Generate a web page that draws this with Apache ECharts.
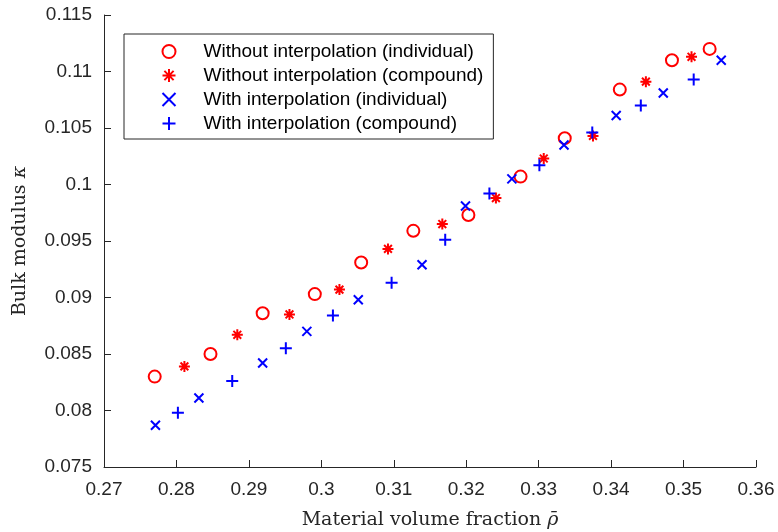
<!DOCTYPE html>
<html>
<head>
<meta charset="utf-8">
<script src="https://cdn.jsdelivr.net/npm/echarts@6/dist/echarts.min.js"></script>
<style>
html,body{margin:0;padding:0;background:#fff;}
#chart{width:778px;height:532px;}
</style>
</head>
<body>
<div id="chart"></div>
<script>
// Without interpolation (individual)
const woIndX = [0.2770,0.2847,0.2919,0.2991,0.3055,0.3127,0.3203,0.3275,0.3336,0.3412,0.3484,0.3536];
const woIndY = [0.0830,0.0850,0.0886,0.0903,0.0931,0.0959,0.0973,0.1007,0.1041,0.1084,0.1110,0.1120];
// Without interpolation (compound)
const woCmpX = [0.2811,0.2884,0.2956,0.3025,0.3092,0.3167,0.3241,0.3307,0.3375,0.3448,0.3511];
const woCmpY = [0.0839,0.0867,0.0885,0.0907,0.0943,0.0965,0.0988,0.1023,0.1043,0.1091,0.1113];
// With interpolation (individual)
const wIndX = [0.2771,0.2831,0.2919,0.2980,0.3051,0.3139,0.3199,0.3263,0.3335,0.3407,0.3472,0.3552];
const wIndY = [0.0787,0.0811,0.0842,0.0870,0.0898,0.0929,0.0981,0.1005,0.1035,0.1061,0.1081,0.1110];
// With interpolation (compound)
const wCmpX = [0.2802,0.2877,0.2951,0.3016,0.3097,0.3171,0.3232,0.3301,0.3374,0.3441,0.3514];
const wCmpY = [0.0798,0.0826,0.0855,0.0884,0.0913,0.0951,0.0992,0.1017,0.1046,0.1070,0.1093];

const seriesNames = [
  'Without interpolation (individual)',
  'Without interpolation (compound)',
  'With interpolation (individual)',
  'With interpolation (compound)'
];

function pairs(xs, ys){ return xs.map((x,i)=>[x, ys[i]]); }

const axisColor = '#262626';
const sans = 'Liberation Sans, Arial, sans-serif';
const serif = 'DejaVu Serif, Liberation Serif, serif';
const chart = echarts.init(document.getElementById('chart'), null, {renderer:'canvas'});

const pathX = 'path://M0,0L10,10M10,0L0,10';
const pathPlus = 'path://M5,0L5,10M0,5L10,5';
const pathStar = 'path://M5,0L5,10M0,5L10,5M1.46,1.46L8.54,8.54M8.54,1.46L1.46,8.54';

chart.setOption({
  animation:false,
  backgroundColor:'#ffffff',
  grid:{left:104, right:22, top:15, bottom:65, containLabel:false, outerBoundsMode:'none'},
  legend:{
    orient:'vertical',
    left:124, top:34,
    padding:[7,10,5,36],
    itemWidth:13, itemHeight:13, itemGap:3,
    borderColor:axisColor, borderWidth:1,
    backgroundColor:'#ffffff',
    selectedMode:false,
    textStyle:{fontFamily:sans, fontSize:19, color:'#000', padding:[0,0,0,23], lineHeight:21},
    data:seriesNames
  },
  xAxis:{
    type:'value', min:0.27, max:0.36, interval:0.01,
    name:'{t|Material volume fraction }{i|ρ̄}',
    nameLocation:'middle', nameGap:44,
    nameTextStyle:{rich:{
      t:{fontFamily:serif, fontSize:19, color:axisColor},
      i:{fontFamily:serif, fontSize:19, fontStyle:'italic', color:axisColor}
    }},
    axisLine:{show:true, lineStyle:{color:axisColor, width:1}},
    axisTick:{show:true, inside:true, length:7, lineStyle:{color:axisColor}},
    axisLabel:{color:axisColor, fontSize:19, fontFamily:sans, margin:13},
    splitLine:{show:false}
  },
  yAxis:{
    type:'value', min:0.075, max:0.115, interval:0.005,
    name:'{t|Bulk modulus }{i|κ}',
    nameLocation:'middle', nameGap:74,
    nameTextStyle:{rich:{
      t:{fontFamily:serif, fontSize:19, color:axisColor},
      i:{fontFamily:serif, fontSize:19, fontStyle:'italic', color:axisColor}
    }},
    axisLine:{show:true, lineStyle:{color:axisColor, width:1}},
    axisTick:{show:true, inside:true, length:7, lineStyle:{color:axisColor}},
    axisLabel:{color:axisColor, fontSize:19, fontFamily:sans, margin:12},
    splitLine:{show:false}
  },
  series:[
    {name:seriesNames[0], type:'scatter', data:pairs(woIndX, woIndY), symbol:'circle', symbolSize:12,
     itemStyle:{color:'#ffffff', borderColor:'#ff0000', borderWidth:2, opacity:1}, emphasis:{disabled:true}},
    {name:seriesNames[1], type:'scatter', data:pairs(woCmpX, woCmpY), symbol:pathStar, symbolSize:11,
     itemStyle:{color:'none', borderColor:'#ff0000', borderWidth:2, opacity:1}, emphasis:{disabled:true}},
    {name:seriesNames[2], type:'scatter', data:pairs(wIndX, wIndY), symbol:pathX, symbolSize:9,
     itemStyle:{color:'none', borderColor:'#0000ff', borderWidth:2, opacity:1}, emphasis:{disabled:true}},
    {name:seriesNames[3], type:'scatter', data:pairs(wCmpX, wCmpY), symbol:pathPlus, symbolSize:12,
     itemStyle:{color:'none', borderColor:'#0000ff', borderWidth:2, opacity:1}, emphasis:{disabled:true}}
  ]
});
</script>
</body>
</html>
